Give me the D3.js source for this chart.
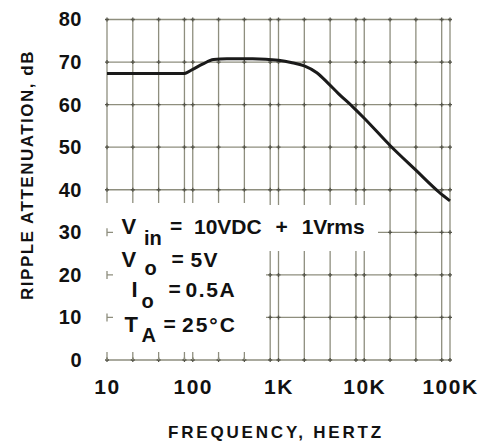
<!DOCTYPE html>
<html><head><meta charset="utf-8">
<script src="https://cdn.jsdelivr.net/npm/d3@7"></script>
<style>body{margin:0;background:#fff}svg{display:block}</style>
</head><body>
<script>
// ---- data ----
const freqHz = [10, 78, 100, 130, 175, 250, 500, 1000, 1400, 2000, 2800, 3800, 5000, 7500, 10000, 20000, 40000, 75000, 100000];
const attenDb = [67.3, 67.3, 68.3, 69.5, 70.6, 70.8, 70.8, 70.4, 69.9, 69.1, 67.5, 65.0, 62.6, 59.3, 56.8, 50.4, 44.6, 39.4, 37.4];
const xTickValues = [10, 100, 1000, 10000, 100000];
const xTickLabels = ["10", "100", "1K", "10K", "100K"];
const yTickValues = [0, 10, 20, 30, 40, 50, 60, 70, 80];
const xGridValues = [10,20,40,80,100,200,400,800,1000,2000,4000,8000,10000,20000,40000,80000,100000];
const conditions = [
  {main: "V", sub: "in", rest: "10VDC + 1Vrms"},
  {main: "V", sub: "o", rest: "5V"},
  {main: "I", sub: "o", rest: "0.5A"},
  {main: "T", sub: "A", rest: "25°C"}
];

const W = 488, H = 445;
const svg = d3.select("body").append("svg").attr("width", W).attr("height", H);
const x = d3.scaleLog().domain([10, 100000]).range([107, 450]);
const y = d3.scaleLinear().domain([0, 80]).range([360, 19.5]);
const gridColor = "#8e8e7e";

const g = svg.append("g");
// grid
g.selectAll(".vg").data(xGridValues).join("line")
  .attr("x1", d => x(d)).attr("x2", d => x(d)).attr("y1", y(80)).attr("y2", y(0))
  .attr("stroke", gridColor).attr("stroke-width", 1.3);
g.selectAll(".hg").data(yTickValues).join("line")
  .attr("x1", x(10)).attr("x2", x(100000)).attr("y1", d => y(d)).attr("y2", d => y(d))
  .attr("stroke", gridColor).attr("stroke-width", 1.3);
// intersection marks
const inter = [];
xGridValues.forEach(fv => yTickValues.forEach(v => inter.push([fv, v])));
g.selectAll(".ix").data(inter).join("path")
  .attr("d", d => `M${x(d[0])-2},${y(d[1])}h4M${x(d[0])},${y(d[1])-2}v4`)
  .attr("stroke", "#55554a").attr("stroke-width", 1.3);

// masks behind condition text
g.append("rect").attr("x", 105).attr("y", 203).attr("width", 161).attr("height", 154).attr("fill", "#fff");
g.append("rect").attr("x", 266).attr("y", 205).attr("width", 112).attr("height", 46).attr("fill", "#fff");
// stubs on left border
g.selectAll(".ls").data([30, 20, 10]).join("path")
  .attr("d", d => `M${x(10)},${y(d)-4}v8M${x(10)},${y(d)}h6`)
  .attr("stroke", gridColor).attr("stroke-width", 1.3);
g.append("line").attr("x1", x(10)).attr("x2", x(10)).attr("y1", y(0) - 8).attr("y2", y(0))
  .attr("stroke", gridColor).attr("stroke-width", 1.3);
// bottom stubs
g.selectAll(".bs").data(xGridValues.filter(d => x(d) > 108 && x(d) < 266)).join("line")
  .attr("x1", d => x(d)).attr("x2", d => x(d)).attr("y1", y(0) - 8).attr("y2", y(0))
  .attr("stroke", gridColor).attr("stroke-width", 1.3);

// curve
const pts = freqHz.map((f, i) => [f, attenDb[i]]);
g.append("path").datum(pts)
  .attr("d", d3.line().x(d => x(d[0])).y(d => y(d[1])).curve(d3.curveMonotoneX))
  .attr("fill", "none").attr("stroke", "#1a1a1a").attr("stroke-width", 3);

// axes
const font = "'Liberation Sans', Arial, sans-serif";
const xAxis = svg.append("g").attr("transform", `translate(0,${y(0)})`)
  .call(d3.axisBottom(x).tickValues(xTickValues).tickFormat((d, i) => xTickLabels[i]).tickSize(0).tickPadding(19));
xAxis.select(".domain").remove();
xAxis.selectAll("text").attr("font-family", font).attr("font-weight", "bold").attr("font-size", 21)
  .attr("letter-spacing", 1.5).attr("fill", "#111");
const yAxis = svg.append("g").attr("transform", `translate(82,0)`)
  .call(d3.axisLeft(y).tickValues(yTickValues).tickSize(0).tickPadding(0));
yAxis.select(".domain").remove();
yAxis.selectAll("text").attr("font-family", font).attr("font-weight", "bold").attr("font-size", 20)
  .attr("letter-spacing", 0.5).attr("fill", "#111");

// titles
svg.append("text").attr("x", 276).attr("y", 438).attr("text-anchor", "middle")
  .attr("font-family", font).attr("font-weight", "bold").attr("font-size", 17)
  .attr("letter-spacing", 2.8).attr("fill", "#111").text("FREQUENCY, HERTZ");
svg.append("text").attr("transform", "translate(33,175) rotate(-90)").attr("text-anchor", "middle")
  .attr("font-family", font).attr("font-weight", "bold").attr("font-size", 17)
  .attr("letter-spacing", 1.5).attr("fill", "#111").text("RIPPLE ATTENUATION, dB");

// condition text
const baselines = [234, 267, 297, 332];
const mainX = [121.5, 121.5, 131.5, 124.5];
const subX = [144, 144.5, 141.5, 141.5];
const subBase = [245, 275, 308, 342];
const eqX = [170, 171.5, 168.5, 163.5];
const restX = [194, 190.5, 185.5, 182];
const restLS = [0, 1.2, 1.6, 2];
conditions.forEach((c, i) => {
  const common = t => t.attr("font-family", font).attr("font-weight", "bold").attr("fill", "#111");
  common(svg.append("text")).attr("x", mainX[i]).attr("y", baselines[i]).attr("font-size", 22).text(c.main);
  common(svg.append("text")).attr("x", subX[i]).attr("y", subBase[i]).attr("font-size", 20).text(c.sub);
  common(svg.append("text")).attr("x", eqX[i]).attr("y", baselines[i] - 1).attr("font-size", 21).text("=");
  common(svg.append("text")).attr("x", restX[i]).attr("y", baselines[i]).attr("font-size", 21)
    .attr("letter-spacing", restLS[i]).attr("word-spacing", 8).text(c.rest);
});
</script>
</body></html>
